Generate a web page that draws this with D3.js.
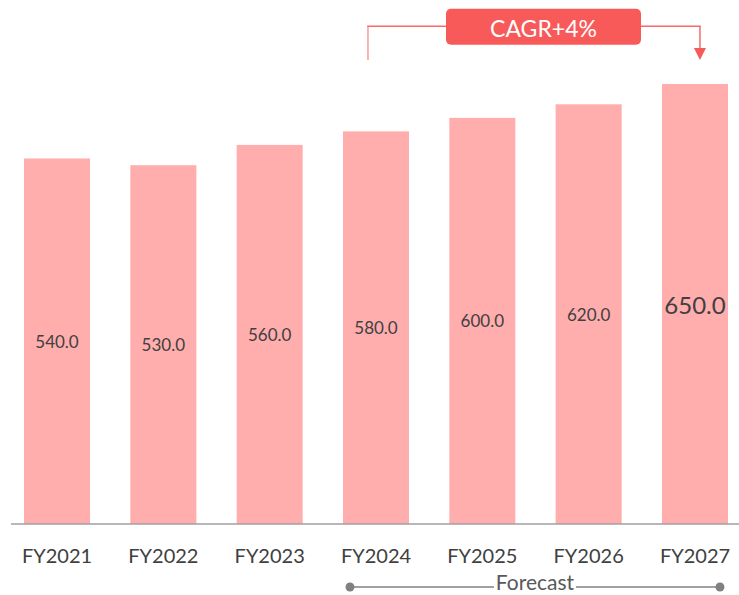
<!DOCTYPE html>
<html>
<head>
<meta charset="utf-8">
<script src="https://cdn.jsdelivr.net/npm/d3@7"></script>
<style>
  html, body { margin: 0; padding: 0; background: #fff; }
  svg { display: block; }
  text { font-family: Lato, "Open Sans", sans-serif; }
</style>
</head>
<body>
<svg id="chart" width="739" height="595"></svg>
<script>
const categories = ["FY2021", "FY2022", "FY2023", "FY2024", "FY2025", "FY2026", "FY2027"];
const values = [540, 530, 560, 580, 600, 620, 650];
const valueLabels = ["540.0", "530.0", "560.0", "580.0", "600.0", "620.0", "650.0"];
const cagrText = "CAGR+4%";
const forecastText = "Forecast";
const forecastFrom = "FY2024";
const forecastTo = "FY2027";

const svg = d3.select("#chart");
const W = 739, H = 595;
const baseY = 524;

const x = d3.scaleBand()
  .domain(categories)
  .range([3.8, 748.2])
  .paddingInner(0.379)
  .paddingOuter(0.19);

const y = d3.scaleLinear()
  .domain([0, 650])
  .range([baseY, 84]);

// bars
svg.append("g").selectAll("rect")
  .data(categories)
  .join("rect")
  .attr("x", d => x(d))
  .attr("y", (d, i) => y(values[i]))
  .attr("width", x.bandwidth())
  .attr("height", (d, i) => baseY - y(values[i]))
  .attr("fill", "#FFADAD");

// value labels
svg.append("g").selectAll("text")
  .data(categories)
  .join("text")
  .attr("x", d => x(d) + x.bandwidth() / 2)
  .attr("y", (d, i) => (y(values[i]) + baseY) / 2)
  .attr("text-anchor", "middle")
  .attr("dominant-baseline", "central")
  .attr("font-size", (d, i) => i === categories.length - 1 ? 24 : 17)
  .attr("fill", "#404040")
  .text((d, i) => valueLabels[i]);

// x axis
const xAxis = d3.axisBottom(x).tickSize(0).tickPadding(0);
const gx = svg.append("g").attr("transform", `translate(0,${baseY})`).call(xAxis);
gx.select(".domain").remove();
gx.selectAll("text")
  .attr("font-family", "Lato, 'Open Sans', sans-serif")
  .attr("font-size", 20)
  .attr("fill", "#404040")
  .attr("dy", null)
  .attr("y", 39);
svg.append("line")
  .attr("x1", 11).attr("x2", W)
  .attr("y1", baseY).attr("y2", baseY)
  .attr("stroke", "#A0A0A0").attr("stroke-width", 1.5);

// forecast bracket
const fx1 = x(forecastFrom) + 7;
const fx2 = x(forecastTo) + 58;
const fy = 587;
const fMid = (fx1 + fx2) / 2;
const fHalf = 41;
svg.append("line").attr("x1", fx1).attr("x2", fMid - fHalf).attr("y1", fy).attr("y2", fy)
  .attr("stroke", "#808080").attr("stroke-width", 1.5);
svg.append("line").attr("x1", fMid + fHalf).attr("x2", fx2).attr("y1", fy).attr("y2", fy)
  .attr("stroke", "#808080").attr("stroke-width", 1.5);
svg.selectAll(".fdot").data([fx1, fx2]).join("circle")
  .attr("cx", d => d).attr("cy", fy).attr("r", 4.5).attr("fill", "#808080");
svg.append("text")
  .attr("x", fMid).attr("y", 590)
  .attr("text-anchor", "middle")
  .attr("font-size", 21)
  .attr("fill", "#595959")
  .text(forecastText);

// CAGR annotation
const boxX = 446, boxW = 195, boxY = 8.7, boxH = 36;
const lineY = 26.3;
const ax1 = x(forecastFrom) + 25;
const ax2 = x(forecastTo) + 38;
svg.append("line").attr("x1", ax1).attr("x2", ax1).attr("y1", lineY).attr("y2", 60)
  .attr("stroke", "#F99A9A").attr("stroke-width", 1.5);
svg.append("line").attr("x1", ax1 - 0.75).attr("x2", boxX).attr("y1", lineY).attr("y2", lineY)
  .attr("stroke", "#F76A6A").attr("stroke-width", 1.5);
svg.append("line").attr("x1", boxX + boxW).attr("x2", ax2 + 0.75).attr("y1", lineY).attr("y2", lineY)
  .attr("stroke", "#F76A6A").attr("stroke-width", 1.5);
svg.append("line").attr("x1", ax2).attr("x2", ax2).attr("y1", lineY).attr("y2", 50)
  .attr("stroke", "#F76A6A").attr("stroke-width", 1.5);
svg.append("path")
  .attr("d", `M${ax2 - 6},48 L${ax2 + 6},48 L${ax2},60 Z`)
  .attr("fill", "#F55A5A");
svg.append("rect")
  .attr("x", boxX).attr("y", boxY).attr("width", boxW).attr("height", boxH)
  .attr("rx", 5).attr("fill", "#F85A5A");
svg.append("text")
  .attr("x", boxX + boxW / 2).attr("y", boxY + boxH / 2 + 1)
  .attr("text-anchor", "middle")
  .attr("dominant-baseline", "central")
  .attr("font-size", 23)
  .attr("fill", "#FFFFFF")
  .text(cagrText);
</script>
</body>
</html>
